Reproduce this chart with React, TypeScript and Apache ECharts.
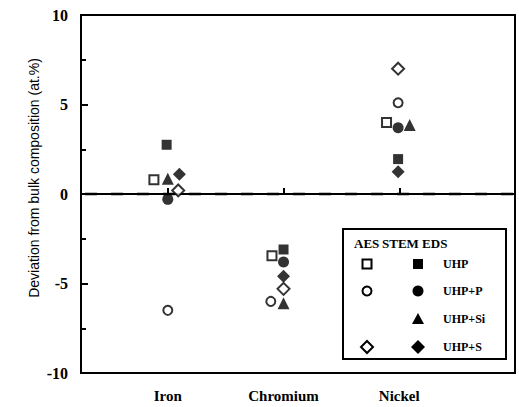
import React, { useEffect, useRef } from "react";
import * as echarts from "echarts";

const categories = ["Iron", "Chromium", "Nickel"];
const yTicks = [-10, -5, 0, 5, 10];

// AES (open symbols)
const aesUHP = [0.8, -3.45, 4.0];
const aesUHPP = [-6.5, -6.0, 5.1];
const aesUHPS = [0.2, -5.3, 7.0];
// STEM EDS (filled symbols)
const edsUHP = [2.75, -3.1, 1.95];
const edsUHPP = [-0.3, -3.8, 3.7];
const edsUHPSi = [0.85, -6.1, 3.85];
const edsUHPS = [1.1, -4.6, 1.25];

// horizontal jitter within each category (category units)
const jitAesUHP = [-0.12, -0.1, -0.11];
const jitAesUHPP = [0, -0.11, -0.01];
const jitAesUHPS = [0.09, 0, -0.01];
const jitEdsUHP = [-0.01, 0, -0.01];
const jitEdsUHPP = [0, 0, -0.01];
const jitEdsUHPSi = [0, 0, 0.09];
const jitEdsUHPS = [0.1, 0, -0.01];

const xRange = [0.25, 4];
const zeroLine = [0, 0];

const legendLabels = ["UHP", "UHP+P", "UHP+Si", "UHP+S"];

const SERIF = "'Liberation Serif', 'Times New Roman', serif";

function pts(vals: number[], jit: number[]) {
  return vals.map((v, i) => [i + 1 + jit[i], v]);
}

function openStyle() {
  return { color: "#fff", borderColor: "#000", borderWidth: 2 };
}
function filledStyle() {
  return { color: "#000", borderColor: "#000", borderWidth: 0 };
}

export default function App() {
  const ref = useRef<HTMLDivElement>(null);
  useEffect(() => {
    if (!ref.current) return;
    const chart = echarts.init(ref.current, null, { renderer: "svg" });

    const rowY = [264, 291, 319, 347];
    const aesX = 367;
    const edsX = 418;
    const labX = 443;

    const txt = (text: string, x: number, y: number, font: string) => ({
      type: "text",
      x,
      y,
      z: 11,
      style: { text, font, fill: "#000", verticalAlign: "middle", textVerticalAlign: "middle" },
    });

    const legendGraphics: any[] = [
      {
        type: "rect",
        shape: { x: 343, y: 229, width: 163, height: 130 },
        style: { fill: "#fff", stroke: "#000", lineWidth: 2 },
        z: 10,
      },
      txt("AES", 354, 243, `bold 13px ${SERIF}`),
      txt("STEM EDS", 382, 243, `bold 13px ${SERIF}`),
    ];
    legendLabels.forEach((lab, i) => {
      legendGraphics.push(txt(lab, labX, rowY[i], `bold 12px ${SERIF}`));
    });
    const s = 4.5;
    // AES symbols
    legendGraphics.push({
      type: "rect",
      shape: { x: aesX - s, y: rowY[0] - s, width: 2 * s, height: 2 * s },
      style: { fill: "#fff", stroke: "#000", lineWidth: 2 },
      z: 11,
    });
    legendGraphics.push({
      type: "circle",
      shape: { cx: aesX, cy: rowY[1], r: s },
      style: { fill: "#fff", stroke: "#000", lineWidth: 2 },
      z: 11,
    });
    legendGraphics.push({
      type: "polygon",
      shape: { points: [[aesX, rowY[3] - 6], [aesX + 6, rowY[3]], [aesX, rowY[3] + 6], [aesX - 6, rowY[3]]] },
      style: { fill: "#fff", stroke: "#000", lineWidth: 2 },
      z: 11,
    });
    // EDS symbols
    legendGraphics.push({
      type: "rect",
      shape: { x: edsX - 5, y: rowY[0] - 5, width: 10, height: 10 },
      style: { fill: "#000" },
      z: 11,
    });
    legendGraphics.push({
      type: "circle",
      shape: { cx: edsX, cy: rowY[1], r: 5.5 },
      style: { fill: "#000" },
      z: 11,
    });
    legendGraphics.push({
      type: "polygon",
      shape: { points: [[edsX, rowY[2] - 6], [edsX + 6, rowY[2] + 5], [edsX - 6, rowY[2] + 5]] },
      style: { fill: "#000" },
      z: 11,
    });
    legendGraphics.push({
      type: "polygon",
      shape: { points: [[edsX, rowY[3] - 7], [edsX + 7, rowY[3]], [edsX, rowY[3] + 7], [edsX - 7, rowY[3]]] },
      style: { fill: "#000" },
      z: 11,
    });

    const option: any = {
      animation: false,
      backgroundColor: "#fff",
      grid: {
        left: 81,
        right: 4,
        top: 15,
        bottom: 34,
        show: true,
        borderColor: "#000",
        borderWidth: 2,
        backgroundColor: "transparent",
      },
      xAxis: {
        type: "value",
        min: xRange[0],
        max: xRange[1],
        splitLine: { show: false },
        axisLine: { show: true, lineStyle: { color: "#000", width: 2 } },
        axisTick: {
          show: true,
          inside: true,
          length: 6,
          customValues: [1, 2, 3],
          lineStyle: { color: "#000", width: 2 },
        },
        axisLabel: {
          customValues: [1, 2, 3],
          formatter: (v: number) => categories[Math.round(v) - 1] || "",
          color: "#000",
          fontFamily: SERIF,
          fontWeight: "bold",
          fontSize: 15,
          margin: 15,
        },
      },
      yAxis: {
        type: "value",
        min: yTicks[0],
        max: yTicks[yTicks.length - 1],
        interval: 5,
        splitLine: { show: false },
        axisLine: { show: true, lineStyle: { color: "#000", width: 2 } },
        axisTick: { show: true, inside: true, length: 7, lineStyle: { color: "#000", width: 2 } },
        minorTick: { show: true, splitNumber: 2, length: 5, lineStyle: { color: "#000", width: 2 } },
        axisLabel: {
          color: "#000",
          fontFamily: SERIF,
          fontWeight: "bold",
          fontSize: 16,
          margin: 13,
        },
      },
      graphic: [
        {
          type: "text",
          x: 34,
          y: 178,
          rotation: Math.PI / 2,
          style: {
            text: "Deviation from bulk composition (at.%)",
            font: "14px 'Liberation Sans', Arial, sans-serif",
            fill: "#000",
            align: "center",
            verticalAlign: "middle",
            textAlign: "center",
            textVerticalAlign: "middle",
          },
        },
        ...legendGraphics,
      ],
      series: [
        {
          name: "zero",
          type: "line",
          symbol: "none",
          silent: true,
          data: xRange.map((x, i) => [x, zeroLine[i]]),
          lineStyle: { color: "#000", width: 2.5, type: [12, 14], dashOffset: -4 },
          z: 1,
        },
        {
          name: "EDS UHP",
          type: "scatter",
          symbol: "rect",
          symbolSize: 10,
          itemStyle: filledStyle(),
          data: pts(edsUHP, jitEdsUHP),
        },
        {
          name: "EDS UHP+P",
          type: "scatter",
          symbol: "circle",
          symbolSize: 11,
          itemStyle: filledStyle(),
          data: pts(edsUHPP, jitEdsUHPP),
        },
        {
          name: "EDS UHP+Si",
          type: "scatter",
          symbol: "triangle",
          symbolSize: 12,
          itemStyle: filledStyle(),
          data: pts(edsUHPSi, jitEdsUHPSi),
        },
        {
          name: "EDS UHP+S",
          type: "scatter",
          symbol: "diamond",
          symbolSize: 13,
          itemStyle: filledStyle(),
          data: pts(edsUHPS, jitEdsUHPS),
        },
        {
          name: "AES UHP",
          type: "scatter",
          symbol: "rect",
          symbolSize: 9,
          itemStyle: openStyle(),
          data: pts(aesUHP, jitAesUHP),
        },
        {
          name: "AES UHP+P",
          type: "scatter",
          symbol: "circle",
          symbolSize: 9,
          itemStyle: openStyle(),
          data: pts(aesUHPP, jitAesUHPP),
        },
        {
          name: "AES UHP+S",
          type: "scatter",
          symbol: "diamond",
          symbolSize: 12,
          itemStyle: openStyle(),
          data: pts(aesUHPS, jitAesUHPS),
        },
      ],
    };
    chart.setOption(option);
    return () => chart.dispose();
  }, []);
  return (
    <div
      ref={ref}
      style={{ position: "absolute", left: 0, top: 0, width: 519, height: 407 }}
    />
  );
}
